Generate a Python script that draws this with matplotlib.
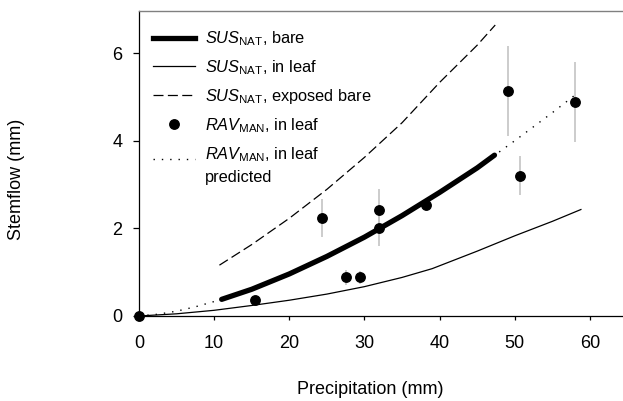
import matplotlib
matplotlib.use("Agg")
import matplotlib.pyplot as plt
from matplotlib.lines import Line2D
from matplotlib.legend_handler import HandlerLine2D

plt.rcParams['font.family'] = ['Liberation Sans', 'DejaVu Sans']
plt.rcParams['mathtext.fontset'] = 'custom'
plt.rcParams['mathtext.rm'] = 'Liberation Sans'
plt.rcParams['mathtext.it'] = 'Liberation Sans:italic'

# SUS_NAT bare (thick)
bare_x = [11, 15, 20, 25, 30, 35, 40, 45, 47.3]
bare_y = [0.38, 0.61, 0.96, 1.36, 1.80, 2.29, 2.82, 3.38, 3.67]
# SUS_NAT in leaf (thin)
leaf_x = [0, 5, 10, 15, 20, 25, 30, 35, 39, 45, 50, 55, 58.8]
leaf_y = [0, 0.05, 0.13, 0.24, 0.36, 0.50, 0.67, 0.88, 1.08, 1.48, 1.83, 2.16, 2.43]
# SUS_NAT exposed bare (dashed)
exp_x = [10.7, 15, 20, 25, 30, 35, 40, 45, 47.4]
exp_y = [1.16, 1.63, 2.23, 2.89, 3.62, 4.41, 5.33, 6.18, 6.64]
# RAV_MAN in leaf predicted (dotted)
pred_x = [0, 2.5, 5, 7.5, 10, 15, 20, 25, 30, 35, 40, 45, 50, 55, 58]
pred_y = [0, 0.04, 0.11, 0.21, 0.33, 0.61, 0.96, 1.36, 1.80, 2.29, 2.82, 3.38, 4.00, 4.64, 5.04]
# RAV_MAN in leaf observations
obs_x = [0, 15.5, 24.4, 27.6, 29.4, 31.9, 31.9, 38.2, 49.1, 50.7, 58.0]
obs_y = [0, 0.37, 2.23, 0.88, 0.88, 2.42, 2.01, 2.53, 5.13, 3.20, 4.89]
obs_err = [0, 0, 0.43, 0.17, 0.15, 0.48, 0.41, 0, 1.02, 0.45, 0.91]

xticks = [0, 10, 20, 30, 40, 50, 60]
yticks = [0, 2, 4, 6]


class RaisedLineHandler(HandlerLine2D):
    def __init__(self, raise_by=0.0, **kw):
        super().__init__(**kw)
        self.raise_by = raise_by

    def create_artists(self, legend, orig_handle, xdescent, ydescent,
                       width, height, fontsize, trans):
        return super().create_artists(legend, orig_handle, xdescent,
                                      ydescent - self.raise_by, width, height,
                                      fontsize, trans)


fig = plt.figure(figsize=(6.23, 4.01), dpi=100)
ax = fig.add_axes([139/623, 85/401, 484/623, 305/401])

ax.plot(exp_x, exp_y, color='black', lw=0.9, dashes=(8, 3.5), zorder=3)
ax.plot(leaf_x, leaf_y, color='black', lw=0.9, zorder=3)
ax.plot(pred_x, pred_y, color='black', lw=1.0, linestyle=(0, (1, 5)), zorder=3)
ax.plot(bare_x, bare_y, color='black', lw=3.8, solid_capstyle='round', zorder=4)
ax.errorbar(obs_x, obs_y, yerr=obs_err, fmt='none', ecolor='#c4c4c4', elinewidth=1.2, capsize=0, zorder=2)
ax.plot(obs_x, obs_y, 'o', color='black', markersize=6.8, zorder=5, clip_on=False)

ax.set_xlim(0, 64.4)
ax.set_ylim(0, 6.96)
ax.set_xticks(xticks)
ax.set_yticks(yticks)
ax.tick_params(axis='x', direction='out', length=3, width=0.9, labelsize=13, pad=10.5)
ax.tick_params(axis='y', direction='out', length=4.5, width=0.9, labelsize=13, pad=7.5)
ax.spines['right'].set_visible(False)
ax.spines['top'].set_color('#808080')
ax.spines['top'].set_linewidth(1.0)
for s in ['left', 'bottom']:
    ax.spines[s].set_linewidth(0.9)

fig.text(17/623, 1 - 179/401, 'Stemflow (mm)', rotation=90, ha='center', va='center', fontsize=13)
fig.text(370/623, 1 - 394/401, 'Precipitation (mm)', ha='center', va='baseline', fontsize=13)

pred_handle = Line2D([], [], color='black', lw=1.0, linestyle=(0, (1, 5)))
handles = [
    Line2D([], [], color='black', lw=3.8),
    Line2D([], [], color='black', lw=0.9),
    Line2D([], [], color='black', lw=0.9, dashes=(8, 3.5)),
    Line2D([], [], color='black', marker='o', markersize=6.8, linestyle='none'),
    pred_handle,
]
labels = [
    r'$\it{SUS}_{\rm NAT}$, bare',
    r'$\it{SUS}_{\rm NAT}$, in leaf',
    r'$\it{SUS}_{\rm NAT}$, exposed bare',
    r'$\it{RAV}_{\rm MAN}$, in leaf',
    r'$\it{RAV}_{\rm MAN}$, in leaf' + '\npredicted',
]
leg = ax.legend(handles, labels, loc='upper left', bbox_to_anchor=(0.029, 0.94),
                frameon=False, fontsize=11.8, handlelength=2.55, handletextpad=0.6,
                labelspacing=0.62, borderpad=0, borderaxespad=0, numpoints=1,
                handler_map={pred_handle: RaisedLineHandler(raise_by=9.0)})
leg.get_texts()[-1].set_linespacing(1.5)

fig.savefig('out.png', dpi=100)
